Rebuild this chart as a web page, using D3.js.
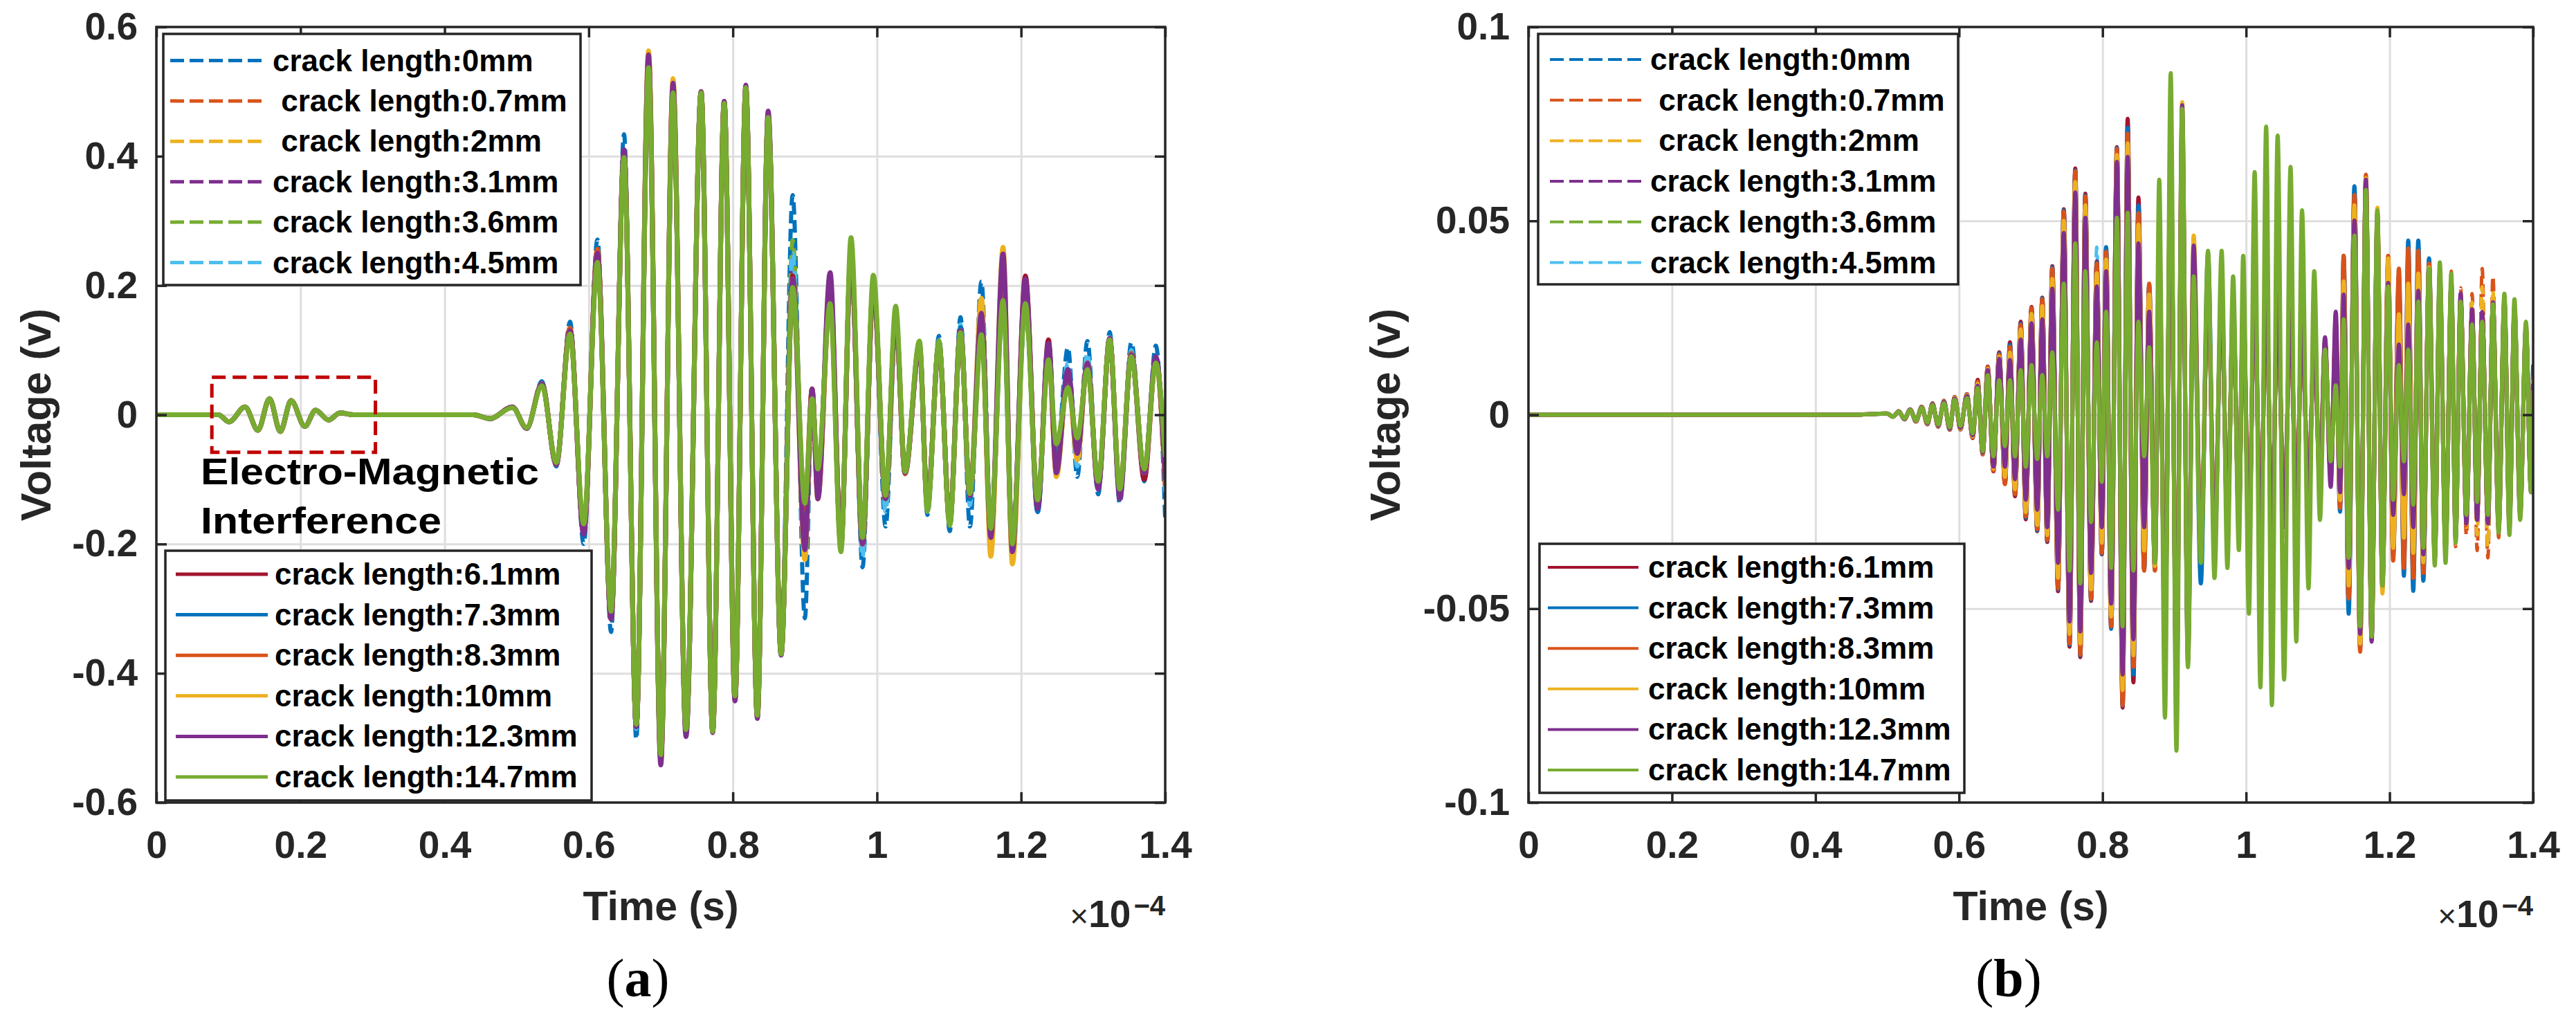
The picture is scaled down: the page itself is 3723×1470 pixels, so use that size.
<!DOCTYPE html>
<html><head><meta charset="utf-8">
<script src="https://cdn.jsdelivr.net/npm/d3@7"></script>
<style>
html,body{margin:0;padding:0;background:#fff;}
svg text{font-family:"Liberation Sans",Arial,sans-serif;}
</style></head><body>
<svg id="chart" width="3723" height="1470"></svg>
<script>
// ---------------- DATA ----------------
const seriesLabels = ["crack length:0mm"," crack length:0.7mm"," crack length:2mm","crack length:3.1mm","crack length:3.6mm","crack length:4.5mm",
  "crack length:6.1mm","crack length:7.3mm","crack length:8.3mm","crack length:10mm","crack length:12.3mm","crack length:14.7mm"];
const xTickValues = [0,0.2,0.4,0.6,0.8,1,1.2,1.4];
const xTickLabels = ["0","0.2","0.4","0.6","0.8","1","1.2","1.4"];
const yTickValuesA = [-0.6,-0.4,-0.2,0,0.2,0.4,0.6];
const yTickLabelsA = ["-0.6","-0.4","-0.2","0","0.2","0.4","0.6"];
const yTickValuesB = [-0.1,-0.05,0,0.05,0.1];
const yTickLabelsB = ["-0.1","-0.05","0","0.05","0.1"];

// Panel (a): extrema times (x1e-4 s) and voltages per series
const timeA = [0,0.086,0.101,0.123,0.141,0.157,0.172,0.187,0.206,0.221,0.239,0.255,0.273,0.44,0.463,0.494,0.514,0.535,0.555,
 0.574,0.593,0.612,0.631,0.649,0.666,0.683,0.700,0.717,0.735,0.756,0.772,0.788,0.803,0.818,0.834,0.849,0.867,
 0.883,0.900,0.910,0.918,0.935,0.950,0.964,0.980,0.995,1.012,1.026,1.039,1.059,1.070,1.086,1.101,1.116,1.129,1.145,1.158,1.175,1.188,1.206,1.223,1.238,1.249,1.265,1.278,1.292,1.307,1.323,1.337,1.353,1.371,1.387,1.4];
const a_0mm = [0,0,-0.011,0.012,-0.024,0.025,-0.026,0.022,-0.018,0.007,-0.008,0.003,0,0,-0.007,0.013,-0.022,0.052,-0.08,
 0.144,-0.2,0.271,-0.336,0.434,-0.502,0.53,-0.52,0.49,-0.48,0.49,-0.48,0.47,-0.44,0.49,-0.455,0.45,-0.36,
 0.34,-0.315,0.03,-0.09,0.2,-0.2,0.26,-0.236,0.206,-0.173,0.136,-0.084,0.1,-0.155,0.122,-0.18,0.151,-0.173,0.206,-0.17,0.17,-0.19,0.16,-0.12,0.09,-0.07,0.104,-0.096,0.114,-0.123,0.128,-0.137,0.112,-0.103,0.107,-0.161];
const a_07mm = [0,0,-0.011,0.012,-0.024,0.025,-0.026,0.022,-0.018,0.007,-0.008,0.003,0,0,-0.006,0.012,-0.021,0.048,-0.077,
 0.13,-0.18,0.25,-0.314,0.403,-0.481,0.545,-0.53,0.505,-0.49,0.497,-0.488,0.481,-0.438,0.503,-0.464,0.458,-0.368,
 0.22,-0.16,0.04,-0.12,0.19,-0.2,0.25,-0.21,0.2,-0.14,0.15,-0.092,0.105,-0.14,0.11,-0.165,0.13,-0.13,0.15,-0.2,0.22,-0.215,0.19,-0.14,0.1,-0.08,0.07,-0.06,0.085,-0.11,0.115,-0.12,0.095,-0.09,0.09,-0.11];
const a_2mm = [0,0,-0.011,0.012,-0.024,0.025,-0.026,0.022,-0.018,0.007,-0.008,0.003,0,0,-0.006,0.011,-0.02,0.045,-0.074,
 0.128,-0.178,0.245,-0.31,0.402,-0.48,0.55,-0.532,0.51,-0.49,0.497,-0.489,0.482,-0.437,0.505,-0.465,0.46,-0.369,
 0.22,-0.2,0.035,-0.13,0.2,-0.205,0.25,-0.205,0.205,-0.135,0.155,-0.09,0.11,-0.145,0.112,-0.165,0.13,-0.128,0.17,-0.21,0.24,-0.225,0.2,-0.14,0.105,-0.09,0.065,-0.065,0.08,-0.108,0.118,-0.12,0.093,-0.088,0.085,-0.1];
const a_31mm = [0,0,-0.011,0.012,-0.024,0.025,-0.026,0.022,-0.018,0.007,-0.008,0.003,0,0,-0.006,0.012,-0.021,0.048,-0.077,
 0.128,-0.18,0.245,-0.312,0.405,-0.481,0.55,-0.535,0.508,-0.492,0.499,-0.49,0.483,-0.44,0.507,-0.466,0.463,-0.37,
 0.23,-0.2,0.04,-0.13,0.21,-0.205,0.25,-0.2,0.2,-0.13,0.15,-0.09,0.11,-0.145,0.11,-0.165,0.13,-0.125,0.16,-0.19,0.24,-0.21,0.2,-0.145,0.11,-0.09,0.07,-0.065,0.08,-0.112,0.118,-0.125,0.093,-0.09,0.088,-0.1];
const a_36mm = [0,0,-0.011,0.012,-0.024,0.025,-0.026,0.022,-0.018,0.007,-0.008,0.003,0,0,-0.006,0.011,-0.02,0.045,-0.074,
 0.127,-0.175,0.242,-0.308,0.4,-0.48,0.54,-0.528,0.5,-0.488,0.498,-0.49,0.482,-0.436,0.506,-0.465,0.46,-0.37,
 0.27,-0.18,0.03,-0.11,0.18,-0.2,0.26,-0.2,0.2,-0.14,0.15,-0.09,0.11,-0.145,0.11,-0.17,0.13,-0.13,0.15,-0.18,0.2,-0.205,0.18,-0.135,0.09,-0.06,0.06,-0.05,0.08,-0.105,0.115,-0.118,0.092,-0.086,0.085,-0.09];
const a_45mm = [0,0,-0.011,0.012,-0.024,0.025,-0.026,0.022,-0.018,0.007,-0.008,0.003,0,0,-0.006,0.012,-0.021,0.048,-0.077,
 0.13,-0.182,0.25,-0.316,0.41,-0.486,0.53,-0.525,0.495,-0.485,0.495,-0.487,0.48,-0.437,0.5,-0.462,0.455,-0.365,
 0.25,-0.17,0.03,-0.1,0.19,-0.2,0.255,-0.22,0.2,-0.15,0.145,-0.09,0.105,-0.15,0.115,-0.172,0.14,-0.14,0.17,-0.18,0.19,-0.2,0.17,-0.13,0.09,-0.07,0.08,-0.08,0.095,-0.11,0.12,-0.125,0.1,-0.09,0.09,-0.12];
const a_61mm = [0,0,-0.011,0.012,-0.024,0.025,-0.026,0.022,-0.018,0.007,-0.008,0.003,0,0,-0.006,0.012,-0.021,0.048,-0.077,
 0.133,-0.182,0.252,-0.314,0.404,-0.481,0.548,-0.53,0.505,-0.49,0.5,-0.49,0.485,-0.44,0.506,-0.467,0.462,-0.37,
 0.215,-0.18,0.04,-0.12,0.2,-0.2,0.25,-0.2,0.2,-0.13,0.15,-0.09,0.11,-0.14,0.11,-0.165,0.13,-0.125,0.15,-0.19,0.21,-0.21,0.215,-0.147,0.116,-0.085,0.061,-0.055,0.08,-0.11,0.115,-0.12,0.095,-0.1,0.085,-0.09];
const a_73mm = [0,0,-0.011,0.012,-0.024,0.025,-0.026,0.022,-0.018,0.007,-0.008,0.003,0,0,-0.006,0.012,-0.021,0.048,-0.077,
 0.132,-0.18,0.25,-0.312,0.402,-0.48,0.545,-0.53,0.505,-0.49,0.498,-0.488,0.483,-0.438,0.505,-0.466,0.46,-0.368,
 0.2,-0.17,0.035,-0.11,0.19,-0.2,0.25,-0.2,0.2,-0.13,0.15,-0.09,0.105,-0.14,0.11,-0.165,0.135,-0.13,0.15,-0.19,0.2,-0.21,0.2,-0.15,0.11,-0.08,0.07,-0.06,0.08,-0.11,0.118,-0.122,0.095,-0.09,0.088,-0.1];
const a_83mm = [0,0,-0.011,0.012,-0.024,0.025,-0.026,0.022,-0.018,0.007,-0.008,0.003,0,0,-0.006,0.012,-0.021,0.048,-0.077,
 0.134,-0.183,0.256,-0.316,0.405,-0.482,0.55,-0.532,0.51,-0.492,0.5,-0.49,0.484,-0.44,0.505,-0.467,0.463,-0.37,
 0.2,-0.146,0.04,-0.13,0.19,-0.2,0.25,-0.2,0.2,-0.13,0.15,-0.091,0.105,-0.14,0.11,-0.165,0.13,-0.125,0.14,-0.2,0.23,-0.22,0.2,-0.14,0.1,-0.09,0.06,-0.06,0.08,-0.112,0.118,-0.12,0.095,-0.09,0.085,-0.11];
const a_10mm = [0,0,-0.011,0.012,-0.024,0.025,-0.026,0.022,-0.018,0.007,-0.008,0.003,0,0,-0.006,0.012,-0.021,0.048,-0.077,
 0.128,-0.178,0.245,-0.31,0.404,-0.48,0.563,-0.535,0.52,-0.49,0.498,-0.49,0.484,-0.44,0.508,-0.468,0.465,-0.37,
 0.21,-0.224,0.04,-0.13,0.21,-0.2,0.25,-0.2,0.2,-0.13,0.15,-0.09,0.105,-0.14,0.11,-0.165,0.13,-0.125,0.18,-0.219,0.259,-0.231,0.2,-0.14,0.1,-0.096,0.06,-0.07,0.08,-0.11,0.118,-0.12,0.094,-0.09,0.085,-0.1];
const a_123mm = [0,0,-0.011,0.012,-0.024,0.025,-0.026,0.022,-0.018,0.007,-0.008,0.003,0,0,-0.006,0.012,-0.021,0.048,-0.077,
 0.13,-0.185,0.25,-0.316,0.41,-0.483,0.557,-0.542,0.513,-0.498,0.5,-0.492,0.485,-0.443,0.51,-0.47,0.47,-0.372,
 0.21,-0.209,0.04,-0.13,0.22,-0.205,0.25,-0.2,0.2,-0.13,0.15,-0.09,0.105,-0.14,0.11,-0.165,0.13,-0.125,0.157,-0.19,0.249,-0.212,0.21,-0.145,0.11,-0.09,0.07,-0.06,0.08,-0.115,0.118,-0.13,0.093,-0.09,0.09,-0.1];
const a_147mm = [0,0,-0.011,0.012,-0.024,0.025,-0.026,0.022,-0.018,0.007,-0.008,0.003,0,0,-0.006,0.011,-0.02,0.045,-0.074,
 0.125,-0.169,0.236,-0.304,0.398,-0.479,0.537,-0.526,0.498,-0.487,0.498,-0.49,0.482,-0.435,0.506,-0.465,0.46,-0.37,
 0.197,-0.137,0.025,-0.084,0.172,-0.212,0.274,-0.19,0.216,-0.125,0.168,-0.088,0.114,-0.149,0.114,-0.171,0.127,-0.122,0.124,-0.176,0.177,-0.2,0.172,-0.132,0.085,-0.045,0.042,-0.036,0.07,-0.103,0.116,-0.115,0.09,-0.084,0.08,-0.065];

// Panel (b): extrema times (x1e-4 s) and voltages per series
const timeB = [0,0.45,0.500,0.508,0.516,0.524,0.532,0.540,0.548,0.556,0.563,0.571,0.579,0.587,0.594,0.602,0.611,0.619,
 0.626,0.633,0.640,0.648,0.656,0.664,0.671,0.678,0.686,0.693,0.701,0.709,0.716,0.723,0.730,0.738,0.746,0.754,0.762,0.769,0.776,0.784,0.792,0.799,0.805,0.812,0.820,0.828,0.835,0.843,0.850,0.858,0.865,0.873,
 0.879,0.887,0.895,0.903,0.911,0.919,0.927,0.937,0.947,0.956,0.966,0.974,0.982,0.990,0.996,1.004,1.012,1.020,1.028,1.036,1.044,1.053,1.062,1.070,1.078,1.087,1.095,1.103,1.110,
 1.118,1.125,1.131,1.136,1.143,1.151,1.159,1.167,1.175,1.183,1.190,1.198,1.205,1.213,1.220,1.226,1.233,1.240,1.247,1.255,
 1.263,1.270,1.278,1.286,1.292,1.299,1.307,1.315,1.322,1.329,1.337,1.344,1.352,1.360,1.367,1.374,1.382,1.390,1.397,1.400];
const b_0mm = [0,0,0.0003,-0.0005,0.0009,-0.0012,0.0014,-0.0018,0.0021,-0.0025,0.003,-0.0031,0.0036,-0.0039,0.0046,-0.0038,0.0053,-0.006,
 0.0088,-0.01,0.0122,-0.0144,0.0158,-0.0176,0.0184,-0.0207,0.0237,-0.0266,0.0275,-0.0296,0.03,-0.0325,0.038,-0.045,0.0525,-0.059,0.063,-0.062,0.0565,-0.0475,0.039,-0.0355,0.0425,-0.0545,0.0685,-0.075,0.075,-0.068,0.055,-0.039,0.033,-0.0395,
 0.039,-0.054,0.063,-0.067,0.071,-0.059,0.04,-0.036,0.034,-0.032,0.03,-0.028,0.027,-0.026,0.028,-0.031,0.033,-0.033,0.032,-0.03,0.029,-0.027,0.025,-0.023,0.021,-0.019,0.018,-0.017,0.02,
 -0.015,0.02,-0.024,0.039,-0.05,0.058,-0.06,0.06,-0.057,0.051,-0.044,0.04,-0.036,0.035,-0.04,0.043,-0.044,0.044,-0.042,0.04,
 -0.036,0.035,-0.034,0.033,-0.03,0.029,-0.026,0.025,-0.025,0.025,-0.026,0.027,-0.028,0.028,-0.028,0.027,-0.025,0.022,-0.02,0.013];
const b_07mm = [0,0,0.0003,-0.0005,0.0009,-0.0011,0.0014,-0.0017,0.002,-0.0024,0.0029,-0.003,0.0035,-0.0038,0.0045,-0.0037,0.0052,-0.0058,
 0.0083,-0.01,0.012,-0.014,0.0152,-0.0175,0.0172,-0.02,0.0228,-0.0258,0.027,-0.029,0.0293,-0.0318,0.037,-0.044,0.0515,-0.058,0.062,-0.061,0.0555,-0.0468,0.0385,-0.035,0.0415,-0.054,0.0678,-0.074,0.072,-0.064,0.051,-0.039,0.033,-0.0395,
 0.039,-0.054,0.063,-0.067,0.073,-0.059,0.039,-0.034,0.033,-0.031,0.03,-0.028,0.027,-0.026,0.028,-0.031,0.033,-0.033,0.032,-0.03,0.029,-0.027,0.025,-0.023,0.021,-0.019,0.018,-0.017,0.018,
 -0.015,0.021,-0.023,0.04,-0.046,0.056,-0.06,0.061,-0.057,0.051,-0.044,0.04,-0.037,0.037,-0.039,0.042,-0.041,0.042,-0.04,0.038,
 -0.036,0.035,-0.034,0.037,-0.034,0.0327,-0.031,0.0312,-0.035,0.0377,-0.0369,0.0357,-0.0317,0.029,-0.028,0.027,-0.025,0.022,-0.019,0.01];
const b_2mm = [0,0,0.0003,-0.0005,0.0008,-0.0011,0.0013,-0.0017,0.002,-0.0023,0.0028,-0.0029,0.0034,-0.0037,0.0044,-0.0036,0.005,-0.0056,
 0.0078,-0.0098,0.0116,-0.0137,0.0148,-0.0157,0.0157,-0.019,0.0217,-0.0248,0.0257,-0.028,0.0277,-0.0307,0.0347,-0.0415,0.0495,-0.056,0.0595,-0.0585,0.0535,-0.0445,0.036,-0.0325,0.0395,-0.0515,0.0665,-0.0705,0.0695,-0.0615,0.0485,-0.0345,0.0305,-0.0385,
 0.041,-0.055,0.065,-0.069,0.075,-0.061,0.042,-0.034,0.033,-0.031,0.03,-0.028,0.027,-0.026,0.028,-0.031,0.033,-0.033,0.032,-0.03,0.029,-0.027,0.025,-0.023,0.021,-0.019,0.018,-0.017,0.018,
 -0.016,0.023,-0.022,0.034,-0.043,0.053,-0.058,0.06,-0.057,0.052,-0.045,0.039,-0.033,0.025,-0.031,0.033,-0.035,0.036,-0.037,0.037,
 -0.035,0.034,-0.033,0.034,-0.032,0.031,-0.029,0.029,-0.031,0.033,-0.034,0.032,-0.03,0.028,-0.027,0.026,-0.024,0.021,-0.018,0.009];
const b_31mm = [0,0,0.0003,-0.0005,0.0008,-0.0011,0.0013,-0.0016,0.0019,-0.0022,0.0027,-0.0028,0.0033,-0.0036,0.0042,-0.0034,0.0048,-0.0053,
 0.0073,-0.0097,0.0112,-0.013,0.014,-0.013,0.0138,-0.0162,0.019,-0.0215,0.0232,-0.024,0.0242,-0.0285,0.032,-0.0376,0.0463,-0.0527,0.0567,-0.0553,0.0502,-0.0402,0.0326,-0.0285,0.0365,-0.048,0.0645,-0.0663,0.0658,-0.0572,0.0436,-0.0285,0.0262,-0.0378,
 0.044,-0.059,0.069,-0.073,0.077,-0.062,0.042,-0.035,0.034,-0.032,0.031,-0.029,0.028,-0.027,0.029,-0.033,0.035,-0.035,0.034,-0.032,0.03,-0.028,0.026,-0.024,0.022,-0.02,0.019,-0.018,0.019,
 -0.0182,0.026,-0.0196,0.0305,-0.039,0.0495,-0.056,0.06,-0.058,0.0515,-0.0435,0.0335,-0.0254,0.0177,-0.02,0.0228,-0.0285,0.0315,-0.0355,0.0365,
 -0.0365,0.0355,-0.0345,0.0335,-0.0315,0.0308,-0.0276,0.0268,-0.0267,0.0261,-0.0276,0.0286,-0.0296,0.0296,-0.0286,0.0276,-0.0256,0.0226,-0.0196,0.0078];
const b_36mm = [0,0,0.0003,-0.0005,0.0008,-0.001,0.0012,-0.0015,0.0018,-0.002,0.0025,-0.0025,0.003,-0.0032,0.0039,-0.0029,0.0043,-0.0048,
 0.0072,-0.0096,0.0108,-0.012,0.011,-0.011,0.011,-0.013,0.015,-0.017,0.018,-0.018,0.017,-0.019,0.024,-0.031,0.04,-0.046,0.05,-0.049,0.043,-0.034,0.026,-0.023,0.031,-0.044,0.058,-0.06,0.059,-0.049,0.034,-0.02,0.022,-0.038,
 0.05,-0.065,0.075,-0.078,0.076,-0.063,0.04,-0.037,0.038,-0.037,0.036,-0.034,0.031,-0.031,0.035,-0.043,0.05,-0.055,0.057,-0.057,0.054,-0.051,0.047,-0.043,0.039,-0.034,0.029,-0.023,0.017,
 -0.014,0.015,-0.017,0.028,-0.038,0.048,-0.055,0.059,-0.057,0.052,-0.044,0.035,-0.025,0.018,-0.018,0.021,-0.026,0.03,-0.034,0.037,
 -0.038,0.038,-0.037,0.035,-0.032,0.029,-0.026,0.024,-0.024,0.025,-0.027,0.028,-0.03,0.03,-0.03,0.029,-0.026,0.023,-0.019,0.007];
const b_45mm = [0,0,0.0003,-0.0005,0.0009,-0.0011,0.0014,-0.0017,0.002,-0.0024,0.0029,-0.003,0.0035,-0.0038,0.0045,-0.0037,0.0052,-0.0058,
 0.0078,-0.0099,0.0117,-0.0137,0.0147,-0.0155,0.0155,-0.0185,0.0213,-0.0242,0.0255,-0.0275,0.0275,-0.0305,0.0345,-0.041,0.049,-0.0555,0.059,-0.058,0.053,-0.044,0.0432,-0.032,0.043,-0.0515,0.066,-0.07,0.069,-0.061,0.048,-0.034,0.03,-0.0385,
 0.041,-0.055,0.064,-0.068,0.073,-0.06,0.041,-0.036,0.035,-0.033,0.031,-0.029,0.028,-0.027,0.029,-0.032,0.034,-0.034,0.033,-0.031,0.03,-0.028,0.026,-0.024,0.022,-0.02,0.019,-0.018,0.018,
 -0.015,0.021,-0.024,0.04,-0.049,0.057,-0.059,0.06,-0.056,0.05,-0.043,0.039,-0.035,0.035,-0.04,0.043,-0.043,0.043,-0.041,0.039,
 -0.036,0.035,-0.034,0.033,-0.03,0.029,-0.026,0.025,-0.025,0.025,-0.026,0.027,-0.028,0.028,-0.027,0.026,-0.024,0.021,-0.018,0.011];
const b_61mm = [0,0,0.0003,-0.0005,0.0009,-0.0012,0.0014,-0.0018,0.0021,-0.0025,0.003,-0.0031,0.0036,-0.0039,0.0046,-0.0038,0.0053,-0.006,
 0.009,-0.0102,0.0124,-0.0146,0.0161,-0.0178,0.0187,-0.021,0.024,-0.027,0.0278,-0.03,0.0302,-0.0328,0.0383,-0.0455,0.053,-0.0598,0.0635,-0.0625,0.057,-0.048,0.0395,-0.036,0.0428,-0.055,0.069,-0.0755,0.0763,-0.069,0.056,-0.0395,0.033,-0.0398,
 0.038,-0.053,0.062,-0.066,0.07,-0.058,0.039,-0.034,0.032,-0.03,0.029,-0.027,0.026,-0.025,0.027,-0.03,0.032,-0.032,0.031,-0.029,0.028,-0.026,0.024,-0.022,0.02,-0.018,0.017,-0.016,0.019,
 -0.016,0.0194,-0.023,0.038,-0.048,0.057,-0.059,0.06,-0.056,0.05,-0.043,0.039,-0.035,0.034,-0.038,0.041,-0.041,0.041,-0.04,0.039,
 -0.035,0.034,-0.033,0.032,-0.03,0.029,-0.026,0.025,-0.025,0.025,-0.026,0.027,-0.028,0.028,-0.027,0.026,-0.024,0.021,-0.018,0.009];
const b_73mm = [0,0,0.0003,-0.0005,0.0009,-0.0011,0.0014,-0.0017,0.002,-0.0024,0.0029,-0.003,0.0035,-0.0038,0.0045,-0.0037,0.0052,-0.0058,
 0.0085,-0.01,0.012,-0.0142,0.0158,-0.0175,0.018,-0.0205,0.0235,-0.0265,0.0272,-0.0298,0.03,-0.0325,0.038,-0.045,0.0527,-0.0593,0.063,-0.062,0.0565,-0.0476,0.0392,-0.0358,0.0432,-0.0552,0.0688,-0.075,0.074,-0.067,0.054,-0.04,0.0335,-0.04,
 0.04,-0.054,0.063,-0.067,0.072,-0.059,0.04,-0.0435,0.0416,-0.035,0.03,-0.028,0.027,-0.026,0.028,-0.031,0.032,-0.033,0.032,-0.03,0.029,-0.027,0.025,-0.023,0.021,-0.019,0.018,-0.017,0.018,
 -0.014,0.021,-0.025,0.041,-0.0513,0.0589,-0.06,0.061,-0.057,0.051,-0.044,0.04,-0.036,0.036,-0.0415,0.0449,-0.0454,0.0449,-0.0428,0.0403,
 -0.037,0.036,-0.035,0.034,-0.031,0.029,-0.026,0.025,-0.025,0.025,-0.026,0.028,-0.029,0.029,-0.028,0.027,-0.025,0.022,-0.019,0.0128];
const b_83mm = [0,0,0.0003,-0.0005,0.0009,-0.0011,0.0014,-0.0017,0.002,-0.0024,0.0029,-0.003,0.0035,-0.0038,0.0045,-0.0037,0.0052,-0.0058,
 0.0085,-0.0101,0.0122,-0.0144,0.0155,-0.0179,0.0175,-0.0205,0.0232,-0.0262,0.0275,-0.0295,0.0298,-0.0323,0.0377,-0.0448,0.0524,-0.059,0.0628,-0.0618,0.0563,-0.0474,0.039,-0.0356,0.042,-0.0546,0.0685,-0.0749,0.0725,-0.065,0.052,-0.0402,0.0338,-0.0402,
 0.04,-0.055,0.064,-0.068,0.074,-0.06,0.04,-0.034,0.033,-0.031,0.03,-0.028,0.027,-0.026,0.028,-0.031,0.033,-0.033,0.032,-0.03,0.029,-0.027,0.025,-0.023,0.021,-0.019,0.018,-0.017,0.018,
 -0.015,0.022,-0.024,0.041,-0.0474,0.0567,-0.0611,0.0619,-0.0575,0.052,-0.045,0.041,-0.0376,0.0377,-0.0395,0.0429,-0.0421,0.0423,-0.0408,0.039,
 -0.036,0.035,-0.034,0.033,-0.031,0.03,-0.027,0.026,-0.026,0.026,-0.027,0.028,-0.029,0.029,-0.028,0.027,-0.025,0.022,-0.019,0.01];
const b_10mm = [0,0,0.0003,-0.0005,0.0008,-0.0011,0.0013,-0.0017,0.002,-0.0023,0.0028,-0.0029,0.0034,-0.0037,0.0044,-0.0036,0.005,-0.0056,
 0.008,-0.0099,0.0118,-0.0139,0.015,-0.016,0.016,-0.0192,0.022,-0.0251,0.026,-0.0284,0.028,-0.031,0.035,-0.042,0.05,-0.0565,0.06,-0.059,0.054,-0.045,0.0365,-0.033,0.04,-0.052,0.067,-0.071,0.07,-0.062,0.049,-0.035,0.031,-0.039,
 0.042,-0.056,0.066,-0.07,0.0806,-0.062,0.0462,-0.035,0.034,-0.032,0.031,-0.029,0.028,-0.027,0.029,-0.032,0.034,-0.034,0.033,-0.031,0.03,-0.028,0.026,-0.024,0.022,-0.02,0.019,-0.018,0.019,
 -0.016,0.024,-0.022,0.0344,-0.044,0.054,-0.059,0.061,-0.058,0.0534,-0.0461,0.0403,-0.0343,0.0259,-0.0317,0.0338,-0.0356,0.0364,-0.038,0.038,
 -0.036,0.035,-0.034,0.033,-0.031,0.03,-0.027,0.026,-0.026,0.026,-0.027,0.028,-0.029,0.029,-0.028,0.027,-0.025,0.022,-0.019,0.009];
const b_123mm = [0,0,0.0003,-0.0005,0.0008,-0.0011,0.0013,-0.0016,0.0019,-0.0022,0.0027,-0.0028,0.0033,-0.0036,0.0042,-0.0034,0.0048,-0.0053,
 0.0075,-0.0098,0.0115,-0.0134,0.0144,-0.0134,0.0141,-0.0166,0.0194,-0.0219,0.0236,-0.0245,0.0246,-0.029,0.0325,-0.0382,0.0469,-0.0533,0.0573,-0.0559,0.0508,-0.0408,0.0331,-0.029,0.037,-0.0487,0.0652,-0.067,0.0665,-0.0579,0.0442,-0.029,0.0266,-0.038,
 0.045,-0.06,0.07,-0.075,0.0798,-0.064,0.0436,-0.036,0.035,-0.033,0.032,-0.03,0.029,-0.028,0.03,-0.034,0.036,-0.036,0.035,-0.033,0.031,-0.029,0.027,-0.025,0.023,-0.021,0.02,-0.019,0.02,
 -0.0186,0.0266,-0.02,0.031,-0.0395,0.0501,-0.0565,0.0606,-0.0585,0.052,-0.044,0.034,-0.0258,0.0181,-0.0205,0.0233,-0.029,0.032,-0.036,0.037,
 -0.037,0.036,-0.035,0.034,-0.032,0.0312,-0.028,0.0272,-0.0271,0.0265,-0.028,0.029,-0.03,0.03,-0.029,0.028,-0.026,0.023,-0.02,0.008];
const b_147mm = [0,0,0.0003,-0.0005,0.0008,-0.001,0.0012,-0.0015,0.0018,-0.002,0.0025,-0.0025,0.003,-0.0032,0.0039,-0.0029,0.0043,-0.0048,
 0.0069,-0.0094,0.0102,-0.0107,0.0089,-0.0081,0.0089,-0.0107,0.0115,-0.0134,0.0128,-0.0114,0.0102,-0.0107,0.0161,-0.0245,0.0338,-0.0402,0.0442,-0.0435,0.037,-0.0277,0.0187,-0.0173,0.0266,-0.0395,0.0508,-0.0546,0.0521,-0.0402,0.024,-0.0107,0.0174,-0.0382,
 0.0606,-0.0781,0.0881,-0.0866,0.0789,-0.0651,0.0357,-0.0382,0.0423,-0.0421,0.0423,-0.0395,0.0357,-0.0349,0.041,-0.0513,0.0626,-0.0703,0.0743,-0.0749,0.072,-0.0683,0.0639,-0.0585,0.0527,-0.0448,0.037,-0.0271,0.0168,
 -0.012,0.0076,-0.0134,0.0246,-0.0369,0.0462,-0.0546,0.058,-0.0572,0.0527,-0.0441,0.0331,-0.0219,0.0128,-0.012,0.0168,-0.0232,0.0292,-0.0343,0.0377,
 -0.0389,0.0393,-0.0382,0.0364,-0.033,0.0292,-0.0258,0.0233,-0.0225,0.024,-0.0258,0.0285,-0.0304,0.0312,-0.031,0.0298,-0.0271,0.024,-0.0199,0.0063];

// ---------------- STYLE / LAYOUT ----------------
const seriesColors = ["#0072BD","#D95319","#EDB120","#7E2F8E","#77AC30","#4DBEEE","#A2142F","#0072BD","#D95319","#EDB120","#7E2F8E","#77AC30"];
const seriesDashed = [true,true,true,true,true,true,false,false,false,false,false,false];
const AX = "#262626";

const svg = d3.select("#chart");
svg.append("rect").attr("width",3723).attr("height",1470).attr("fill","#fff");
const defs = svg.append("defs");

const panels = [
  { id:"a", left:226, right:1684, top:39, bottom:1160, yDomain:[-0.6,0.6], yTicks:yTickValuesA, yLabels:yTickLabelsA,
    time:timeA, series:[a_0mm,a_07mm,a_2mm,a_31mm,a_36mm,a_45mm,a_61mm,a_73mm,a_83mm,a_10mm,a_123mm,a_147mm],
    lw:7, legLw:5, ylabelX:73, captionX:922, caption:"a",
    legends:[ {x0:236,y0:49,x1:839,y1:412,row0:87.5,dy:58.4,s0:246,s1:379,tx:394,idx:[0,1,2,3,4,5]},
              {x0:239,y0:796,x1:855,y1:1157,row0:830,dy:58.6,s0:254,s1:387,tx:397,idx:[6,7,8,9,10,11]} ],
    emi:true },
  { id:"b", left:2209, right:3661, top:39, bottom:1160, yDomain:[-0.1,0.1], yTicks:yTickValuesB, yLabels:yTickLabelsB,
    time:timeB, series:[b_0mm,b_07mm,b_2mm,b_31mm,b_36mm,b_45mm,b_61mm,b_73mm,b_83mm,b_10mm,b_123mm,b_147mm],
    lw:6, legLw:4, ylabelX:2023, captionX:2903, caption:"b",
    legends:[ {x0:2223,y0:49,x1:2830,y1:411,row0:86,dy:58.7,s0:2240,s1:2373,tx:2385,idx:[0,1,2,3,4,5]},
              {x0:2225,y0:786,x1:2839,y1:1146,row0:820,dy:58.6,s0:2237,s1:2368,tx:2382,idx:[6,7,8,9,10,11]} ],
    emi:false }
];

function styleAxis(s){
  s.select(".domain").remove();
  s.selectAll(".tick line").attr("stroke",AX).attr("stroke-width",3.5);
  s.attr("font-family","Liberation Sans, Arial, sans-serif").attr("font-size",55).attr("font-weight","bold");
  s.selectAll(".tick text").attr("fill",AX);
}

panels.forEach(p=>{
  const g = svg.append("g");
  const x = d3.scaleLinear().domain([0,1.4]).range([p.left,p.right]);
  const y = d3.scaleLinear().domain(p.yDomain).range([p.bottom,p.top]);
  const W = p.right-p.left, H = p.bottom-p.top;

  // grid
  g.append("g").attr("transform",`translate(0,${p.bottom})`)
    .call(d3.axisBottom(x).tickValues(xTickValues).tickSize(-H).tickFormat(""))
    .call(s=>{s.select(".domain").remove(); s.selectAll("line").attr("stroke","#dedede").attr("stroke-width",3);});
  g.append("g").attr("transform",`translate(${p.left},0)`)
    .call(d3.axisLeft(y).tickValues(p.yTicks).tickSize(-W).tickFormat(""))
    .call(s=>{s.select(".domain").remove(); s.selectAll("line").attr("stroke","#dedede").attr("stroke-width",3);});

  // clip
  defs.append("clipPath").attr("id","clip"+p.id).append("rect")
    .attr("x",p.left).attr("y",p.top).attr("width",W).attr("height",H);

  // lines
  const line = d3.line().x(d=>x(d[0])).y(d=>y(d[1])).curve(d3.curveMonotoneX);
  const lg = g.append("g").attr("clip-path",`url(#clip${p.id})`);
  p.series.forEach((vals,i)=>{
    const n = Math.min(vals.length,p.time.length);
    const pts = d3.range(n).map(j=>[p.time[j],vals[j]]);
    lg.append("path").datum(pts).attr("d",line)
      .attr("fill","none").attr("stroke",seriesColors[i]).attr("stroke-width",seriesDashed[i]?p.lw-1:p.lw)
      .attr("stroke-linejoin","round")
      .attr("stroke-dasharray",seriesDashed[i]?"18,8":null);
  });

  // EMI annotation
  if (p.emi){
    g.append("rect").attr("x",x(0.077)).attr("y",y(0.058)).attr("width",x(0.304)-x(0.077)).attr("height",y(-0.058)-y(0.058))
      .attr("fill","none").attr("stroke","#C00000").attr("stroke-width",5).attr("stroke-dasharray","20,10");
    g.append("text").attr("x",290).attr("y",700).attr("font-size",54).attr("font-weight","bold").attr("fill","#000")
      .attr("textLength",489).attr("lengthAdjust","spacingAndGlyphs").text("Electro-Magnetic");
    g.append("text").attr("x",290).attr("y",771).attr("font-size",54).attr("font-weight","bold").attr("fill","#000")
      .attr("textLength",348).attr("lengthAdjust","spacingAndGlyphs").text("Interference");
  }

  // box
  g.append("rect").attr("x",p.left).attr("y",p.top).attr("width",W).attr("height",H)
    .attr("fill","none").attr("stroke",AX).attr("stroke-width",3.5);

  // axes with inward ticks
  g.append("g").attr("transform",`translate(0,${p.bottom})`)
    .call(d3.axisBottom(x).tickValues(xTickValues).tickSize(-15).tickPadding(41).tickFormat((d,i)=>xTickLabels[i]))
    .call(styleAxis);
  g.append("g").attr("transform",`translate(0,${p.top})`)
    .call(d3.axisTop(x).tickValues(xTickValues).tickSize(-15).tickFormat(""))
    .call(styleAxis);
  g.append("g").attr("transform",`translate(${p.left},0)`)
    .call(d3.axisLeft(y).tickValues(p.yTicks).tickSize(-15).tickPadding(27).tickFormat((d,i)=>p.yLabels[i]))
    .call(styleAxis);
  g.append("g").attr("transform",`translate(${p.right},0)`)
    .call(d3.axisRight(y).tickValues(p.yTicks).tickSize(-15).tickFormat(""))
    .call(styleAxis);

  // exponent
  const ex = g.append("text").attr("x",p.right).attr("y",1340).attr("text-anchor","end").attr("fill",AX).attr("font-weight","bold");
  ex.append("tspan").attr("font-size",46).attr("font-weight","normal").text("\u00D7");
  ex.append("tspan").attr("font-size",55).text("10");
  ex.append("tspan").attr("font-size",40).attr("dy",-17).attr("dx",4).text("\u22124");

  // axis labels
  g.append("text").attr("x",(p.left+p.right)/2).attr("y",1330).attr("text-anchor","middle")
    .attr("font-size",59).attr("font-weight","bold").attr("fill",AX).text("Time (s)");
  g.append("text").attr("transform",`translate(${p.ylabelX},${(p.top+p.bottom)/2}) rotate(-90)`).attr("text-anchor","middle")
    .attr("font-size",61).attr("font-weight","bold").attr("fill",AX).text("Voltage (v)");

  // legends
  p.legends.forEach(L=>{
    const lgd = g.append("g");
    lgd.append("rect").attr("x",L.x0).attr("y",L.y0).attr("width",L.x1-L.x0).attr("height",L.y1-L.y0)
      .attr("fill","#fff").attr("stroke",AX).attr("stroke-width",3.5);
    L.idx.forEach((si,k)=>{
      const yy = L.row0 + k*L.dy;
      lgd.append("line").attr("x1",L.s0).attr("x2",L.s1).attr("y1",yy).attr("y2",yy)
        .attr("stroke",seriesColors[si]).attr("stroke-width",p.legLw)
        .attr("stroke-dasharray",seriesDashed[si]?"20,8":null);
      lgd.append("text").attr("x",L.tx).attr("y",yy+15).attr("font-size",44).attr("font-weight","bold")
        .attr("fill","#000").style("white-space","pre").text(seriesLabels[si]);
    });
  });

  // caption
  const cap = svg.append("text").attr("x",p.captionX).attr("y",1440).attr("text-anchor","middle")
    .attr("font-size",78).attr("fill","#000").style("font-family","'Liberation Serif','DejaVu Serif',serif");
  cap.append("tspan").text("(");
  cap.append("tspan").attr("font-weight","bold").text(p.caption);
  cap.append("tspan").text(")");
});
</script>
</body></html>
